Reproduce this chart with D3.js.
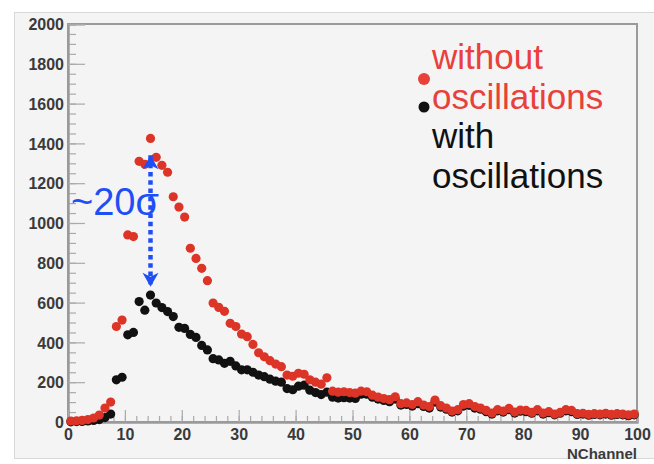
<!DOCTYPE html>
<html>
<head>
<meta charset="utf-8">
<script src="https://cdn.jsdelivr.net/npm/d3@7"></script>
<style>
  html, body { margin: 0; padding: 0; background: #fff; }
  svg { display: block; }
  .tick text { font-family: "Liberation Sans", Arial, sans-serif; font-weight: bold; font-size: 16px; fill: #3a3a3a; }
</style>
</head>
<body>
<svg id="chart" width="654" height="464"></svg>
<script>
// bin centres of the NChannel histogram
const nchannel = d3.range(0.5, 100, 1);

const withoutOsc = [
  5, 6, 8, 12, 20, 35, 70, 100, 480, 512,
  940, 932, 1310, 1295, 1425, 1330, 1290, 1255, 1132, 1080,
  1030, 873, 822, 772, 710, 598, 576, 556, 496, 480,
  442, 429, 390, 348, 328, 308, 291, 278, 236, 230,
  245, 240, 212, 200, 190, 222, 155, 150, 152, 148,
  145, 155, 152, 135, 125, 118, 112, 127, 92, 96,
  88, 102, 85, 78, 110, 82, 70, 55, 62, 88,
  92, 78, 70, 58, 45, 62, 55, 68, 50, 60,
  58, 48, 62, 45, 52, 40, 48, 62, 58, 42,
  44, 38, 42, 40, 44, 38, 42, 40, 36, 40
];

const withOsc = [
  1, 2, 3, 5, 8, 12, 22, 40, 212, 225,
  438, 450, 605, 562, 638, 598, 575, 555, 530, 476,
  470, 440, 425, 385, 362, 318, 312, 295, 305, 282,
  262, 262, 250, 236, 228, 215, 205, 200, 168, 162,
  180, 185, 160, 148, 138, 150, 125, 120, 122, 120,
  118, 140, 140, 125, 115, 108, 102, 115, 85, 88,
  80, 92, 78, 70, 100, 75, 64, 50, 56, 80,
  84, 70, 64, 52, 40, 56, 50, 62, 45, 54,
  52, 44, 56, 40, 47, 36, 44, 56, 52, 38,
  40, 34, 38, 36, 40, 34, 38, 36, 32, 36
];

const yTicks = [0, 200, 400, 600, 800, 1000, 1200, 1400, 1600, 1800, 2000];
const yMinor = d3.range(0, 2001, 50);
const xTicks = [0, 10, 20, 30, 40, 50, 60, 70, 80, 90, 100];
const xMinor = d3.range(0, 101, 2);

const legendLines = [
  { text: "without", color: "#e8403a" },
  { text: "oscillations", color: "#e8403a" },
  { text: "with", color: "#111" },
  { text: "oscillations", color: "#111" }
];

const svg = d3.select("#chart");
const plot = { left: 68, right: 637, top: 24, bottom: 422 };

const x = d3.scaleLinear().domain([0, 100]).range([plot.left, plot.right]);
const y = d3.scaleLinear().domain([0, 2000]).range([plot.bottom, plot.top]);

// canvas
svg.append("rect")
  .attr("x", 14.5).attr("y", 12.5)
  .attr("width", 660).attr("height", 446)
  .attr("fill", "#f4f4f4")
  .attr("stroke", "#d8d8d8");

// frame
svg.append("rect")
  .attr("x", plot.left).attr("y", plot.top)
  .attr("width", plot.right - plot.left).attr("height", plot.bottom - plot.top)
  .attr("fill", "none")
  .attr("stroke", "#9a9a9a")
  .attr("stroke-width", 2);

// axes
const yMinorAxis = svg.append("g")
  .attr("transform", `translate(${plot.left},0)`)
  .call(d3.axisLeft(y).tickValues(yMinor).tickSize(-8).tickFormat(""));
const yAxis = svg.append("g")
  .attr("transform", `translate(${plot.left},0)`)
  .call(d3.axisLeft(y).tickValues(yTicks).tickSize(-17).tickPadding(4).tickFormat(d3.format("d")));
const xMinorAxis = svg.append("g")
  .attr("transform", `translate(0,${plot.bottom})`)
  .call(d3.axisBottom(x).tickValues(xMinor).tickSize(-6).tickFormat(""));
const xAxis = svg.append("g")
  .attr("transform", `translate(0,${plot.bottom})`)
  .call(d3.axisBottom(x).tickValues(xTicks).tickSize(-12).tickPadding(6).tickFormat(d3.format("d")));

[yMinorAxis, yAxis, xMinorAxis, xAxis].forEach((g) => {
  g.select(".domain").attr("stroke", "#9a9a9a").attr("stroke-width", 2);
  g.selectAll(".tick line").attr("stroke", "#aaa").attr("stroke-width", 1.2);
});
yAxis.selectAll(".tick text").attr("dy", "0.36em");
xAxis.selectAll(".tick text").attr("dy", "0.72em");

svg.append("text")
  .attr("x", plot.right).attr("y", 459)
  .attr("text-anchor", "end")
  .attr("font-family", "Liberation Sans, Arial, sans-serif")
  .attr("font-weight", "bold")
  .attr("font-size", 15)
  .attr("fill", "#3a3a3a")
  .text("NChannel");

// markers
const series = [
  { values: withOsc, color: "#111" },
  { values: withoutOsc, color: "#dc3426" }
];
series.forEach((s) => {
  svg.append("g")
    .selectAll("circle")
    .data(nchannel.map((c, i) => [c, s.values[i]]))
    .join("circle")
    .attr("cx", (d) => x(d[0]))
    .attr("cy", (d) => y(d[1]))
    .attr("r", 4.6)
    .attr("fill", s.color);
});

// ~20 sigma annotation
const blue = "#1f4ef5";
const arrowX = x(14.5);

svg.append("line")
  .attr("x1", arrowX).attr("x2", arrowX)
  .attr("y1", y(1340)).attr("y2", y(680))
  .attr("stroke", blue)
  .attr("stroke-width", 4.5)
  .attr("stroke-dasharray", "4.5 3.8");
svg.append("path")
  .attr("d", `M${arrowX},${y(1340)}l-8,14l8,-4l8,4z`)
  .attr("fill", blue);
svg.append("path")
  .attr("d", `M${arrowX},${y(680)}l-8,-14l8,4l8,-4z`)
  .attr("fill", blue);

svg.append("text")
  .attr("x", 71).attr("y", 215)
  .attr("font-family", "Liberation Sans, Arial, sans-serif")
  .attr("font-size", 38)
  .attr("fill", blue)
  .text("~20σ");

// legend
const legend = svg.append("g").attr("font-family", "Liberation Sans, Arial, sans-serif").attr("font-size", 35);
legend.selectAll("text")
  .data(legendLines)
  .join("text")
  .attr("x", 432)
  .attr("y", (d, i) => 69 + i * 39.7)
  .attr("fill", (d) => d.color)
  .text((d) => d.text);
legend.append("circle").attr("cx", 424).attr("cy", 79).attr("r", 6).attr("fill", "#e8403a");
legend.append("circle").attr("cx", 424).attr("cy", 107).attr("r", 5.5).attr("fill", "#111");
</script>
</body>
</html>
